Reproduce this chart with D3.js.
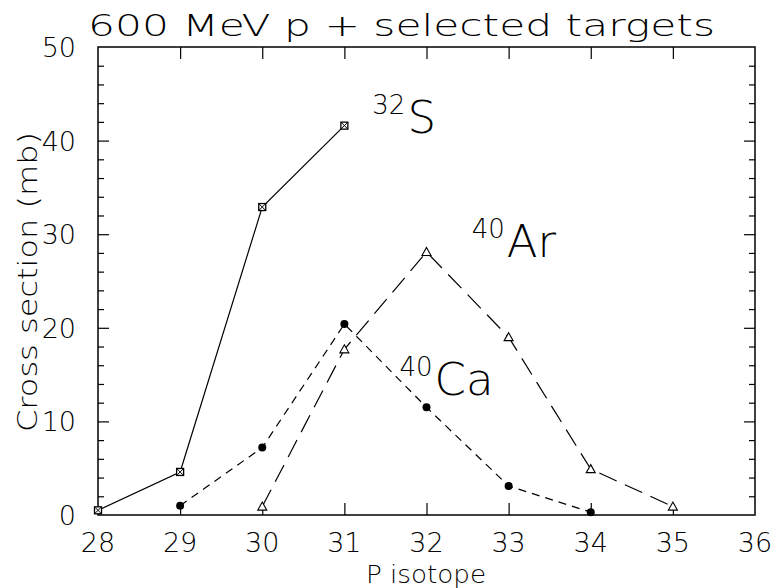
<!DOCTYPE html>
<html>
<head>
<meta charset="utf-8">
<script src="https://cdn.jsdelivr.net/npm/d3@7"></script>
<style>
  body { margin: 0; background: #fff; }
  text { font-family: "DejaVu Sans", "Liberation Sans", sans-serif; font-weight: 200; fill: #000; }
</style>
</head>
<body>
<script>
// data
let isoS = [28, 29, 30, 31];
let csS = [0.5, 4.6, 32.9, 41.6];
let isoCa = [29, 30, 31, 32, 33, 34];
let csCa = [1.0, 7.2, 20.4, 11.5, 3.1, 0.3];
let isoAr = [30, 31, 32, 33, 34, 35];
let csAr = [0.9, 17.7, 28.1, 19.0, 4.9, 0.9];
let xTicks = [28, 29, 30, 31, 32, 33, 34, 35, 36];
let yTicks = [0, 10, 20, 30, 40, 50];
let yMinor = d3.range(0, 51, 2);

let width = 771, height = 588;
let margin = {top: 47, bottom: 73, left: 98, right: 16};

let svg = d3.select("body").append("svg")
  .attr("width", width)
  .attr("height", height);

let x = d3.scaleLinear().domain([28, 36]).range([margin.left, width - margin.right]);
let y = d3.scaleLinear().domain([0, 50]).range([height - margin.bottom, margin.top]);

// frame
svg.append("rect")
  .attr("x", x(28)).attr("y", y(50))
  .attr("width", x(36) - x(28)).attr("height", y(0) - y(50))
  .attr("fill", "none").attr("stroke", "#000").attr("stroke-width", 1.5);

// axes with inward ticks
let tk = (sel) => sel.select(".domain").remove();
svg.append("g").attr("transform", `translate(0,${y(0)})`)
  .call(d3.axisTop(x).tickValues(xTicks.slice(1, -1)).tickSize(12).tickFormat(""))
  .call(tk);
svg.append("g").attr("transform", `translate(0,${y(50)})`)
  .call(d3.axisBottom(x).tickValues(xTicks.slice(1, -1)).tickSize(12).tickFormat(""))
  .call(tk);
svg.append("g").attr("transform", `translate(${x(28)},0)`)
  .call(d3.axisRight(y).tickValues(yMinor.filter(d => d % 10 != 0)).tickSize(6).tickFormat(""))
  .call(tk);
svg.append("g").attr("transform", `translate(${x(28)},0)`)
  .call(d3.axisRight(y).tickValues(yTicks.slice(1, -1)).tickSize(11).tickFormat(""))
  .call(tk);
svg.append("g").attr("transform", `translate(${x(36)},0)`)
  .call(d3.axisLeft(y).tickValues(yMinor.filter(d => d % 10 != 0)).tickSize(6).tickFormat(""))
  .call(tk);
svg.append("g").attr("transform", `translate(${x(36)},0)`)
  .call(d3.axisLeft(y).tickValues(yTicks.slice(1, -1)).tickSize(11).tickFormat(""))
  .call(tk);
svg.selectAll(".tick line").attr("stroke", "#000").attr("stroke-width", 1.2);

// tick labels
svg.selectAll("text.xl").data(xTicks).enter().append("text")
  .attr("class", "xl")
  .attr("x", d => x(d)).attr("y", 552)
  .attr("text-anchor", "middle")
  .style("font-size", "27px")
  .text(d => d);
svg.selectAll("text.yl").data(yTicks).enter().append("text")
  .attr("class", "yl")
  .attr("x", 76).attr("y", d => y(d) + 10)
  .attr("text-anchor", "end")
  .style("font-size", "27px")
  .text(d => d);

// titles
svg.append("text")
  .attr("x", 88).attr("y", 36)
  .attr("textLength", 627).attr("lengthAdjust", "spacingAndGlyphs")
  .style("font-size", "31px")
  .text("600 MeV p + selected targets");
svg.append("text")
  .attr("transform", "translate(37,282) rotate(-90)")
  .attr("text-anchor", "middle")
  .attr("textLength", 300).attr("lengthAdjust", "spacingAndGlyphs")
  .style("font-size", "27px")
  .text("Cross section (mb)");
svg.append("text")
  .attr("x", 426).attr("y", 583)
  .attr("text-anchor", "middle")
  .attr("textLength", 120).attr("lengthAdjust", "spacingAndGlyphs")
  .style("font-size", "24px")
  .text("P isotope");

// lines
let line = d3.line().x(d => x(d[0])).y(d => y(d[1]));
let series = [
  {iso: isoS, cs: csS, dash: null},
  {iso: isoCa, cs: csCa, dash: "8,6"},
  {iso: isoAr, cs: csAr, dash: "19,9"}
];
series.forEach(s => {
  svg.append("path")
    .datum(d3.zip(s.iso, s.cs))
    .attr("d", line)
    .attr("fill", "none")
    .attr("stroke", "#000")
    .attr("stroke-width", 1.2)
    .attr("stroke-dasharray", s.dash);
});

// markers: 32S squares with cross
let sq = svg.selectAll("g.sq").data(d3.zip(isoS, csS)).enter().append("g")
  .attr("transform", d => `translate(${x(d[0])},${y(d[1])})`);
sq.append("rect").attr("x", -3.5).attr("y", -3.5).attr("width", 7).attr("height", 7)
  .attr("fill", "#fff").attr("stroke", "#000").attr("stroke-width", 1.3);
sq.append("path").attr("d", "M-3,-3L3,3M-3,3L3,-3").attr("stroke", "#000").attr("stroke-width", 1);

// 40Ca filled circles
svg.selectAll("circle.ca").data(d3.zip(isoCa, csCa)).enter().append("circle")
  .attr("cx", d => x(d[0])).attr("cy", d => y(d[1])).attr("r", 4)
  .attr("fill", "#000");

// 40Ar open triangles
svg.selectAll("path.ar").data(d3.zip(isoAr, csAr)).enter().append("path")
  .attr("transform", d => `translate(${x(d[0])},${y(d[1])})`)
  .attr("d", "M0,-4.5L4.5,3.5L-4.5,3.5Z")
  .attr("fill", "#fff").attr("stroke", "#000").attr("stroke-width", 1.1);

// isotope labels
let labels = [
  {sup: "32", main: "S", at: [31.34, 40.8]},
  {sup: "40", main: "Ar", at: [32.55, 27.56]},
  {sup: "40", main: "Ca", at: [31.67, 12.82]}
];
labels.forEach(l => {
  let t = svg.append("text")
    .attr("x", x(l.at[0])).attr("y", y(l.at[1]));
  t.append("tspan").attr("dy", -19).style("font-size", "26px").text(l.sup);
  t.append("tspan").attr("dy", 19).attr("dx", 2).style("font-size", "45px").text(l.main);
});
</script>
</body>
</html>
